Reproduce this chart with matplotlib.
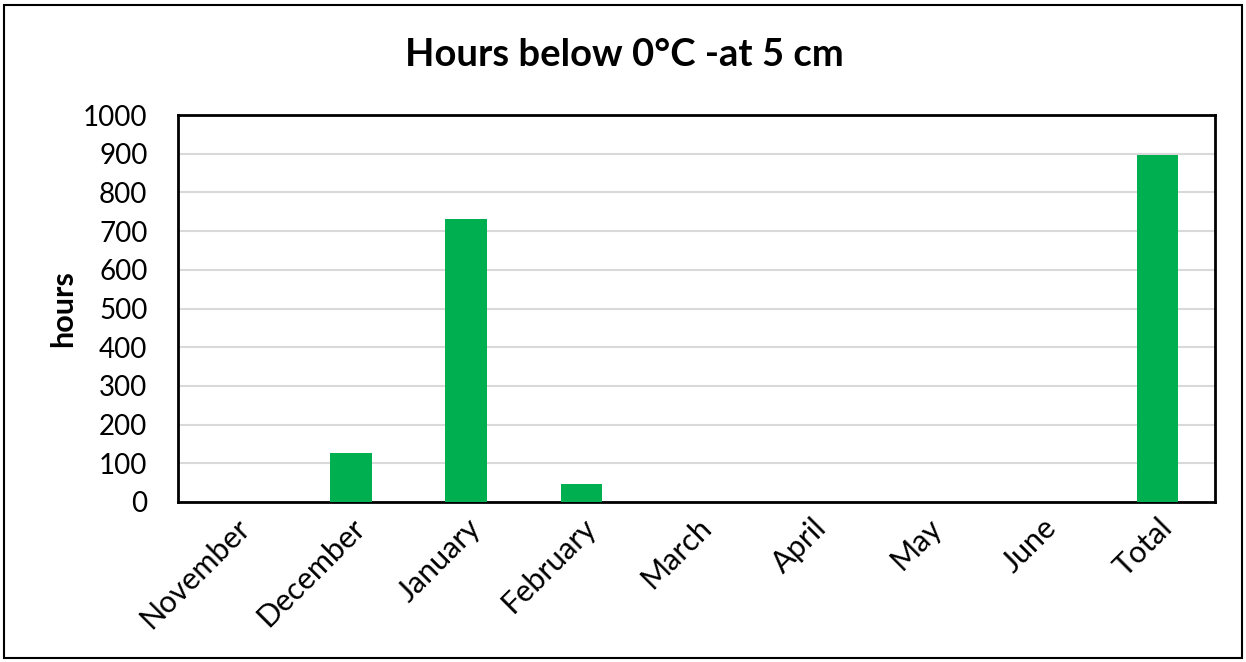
import matplotlib.pyplot as plt
from matplotlib.patches import Rectangle

plt.rcParams['font.family'] = ['Lato', 'DejaVu Sans']

months = ['November', 'December', 'January', 'February', 'March',
          'April', 'May', 'June', 'Total']
hours = [0, 127, 732, 47, 0, 0, 0, 0, 896]
yticks = list(range(0, 1001, 100))

fig = plt.figure(figsize=(12.46, 6.62), dpi=100)
ax = fig.add_axes([178 / 1246, 1 - 502 / 662, (1215 - 178) / 1246, (502 - 115) / 662])

x = range(len(months))
ax.bar(x, hours, width=0.36, color='#00b050', zorder=3)

ax.set_xlim(-0.5, len(months) - 0.5)
ax.set_ylim(0, 1000)
ax.set_yticks(yticks)
ax.set_yticklabels([str(t) for t in yticks], fontsize=20)
ax.set_xticks(list(x))
ax.set_xticklabels(months, rotation=45, ha='right', rotation_mode='anchor', fontsize=22)
ax.tick_params(axis='y', length=0, pad=22)
ax.tick_params(axis='x', length=0, pad=8)
ax.yaxis.grid(True, color='#d9d9d9', linewidth=1.5, zorder=0)
for s in ax.spines.values():
    s.set_color('black')
    s.set_linewidth(2)

ax.set_ylabel('hours', fontsize=22, fontweight='bold', labelpad=4)
fig.text(624 / 1246, 1 - 55 / 662, 'Hours below 0°C -at 5 cm', ha='center', va='center',
         fontsize=27.5, fontweight='bold')

# outer chart border
fig.patches.append(Rectangle((4 / 1246, 4 / 662), 1238 / 1246, 653 / 662, transform=fig.transFigure,
                             fill=False, edgecolor='black', linewidth=1.5))

fig.savefig('out.png', dpi=100)
